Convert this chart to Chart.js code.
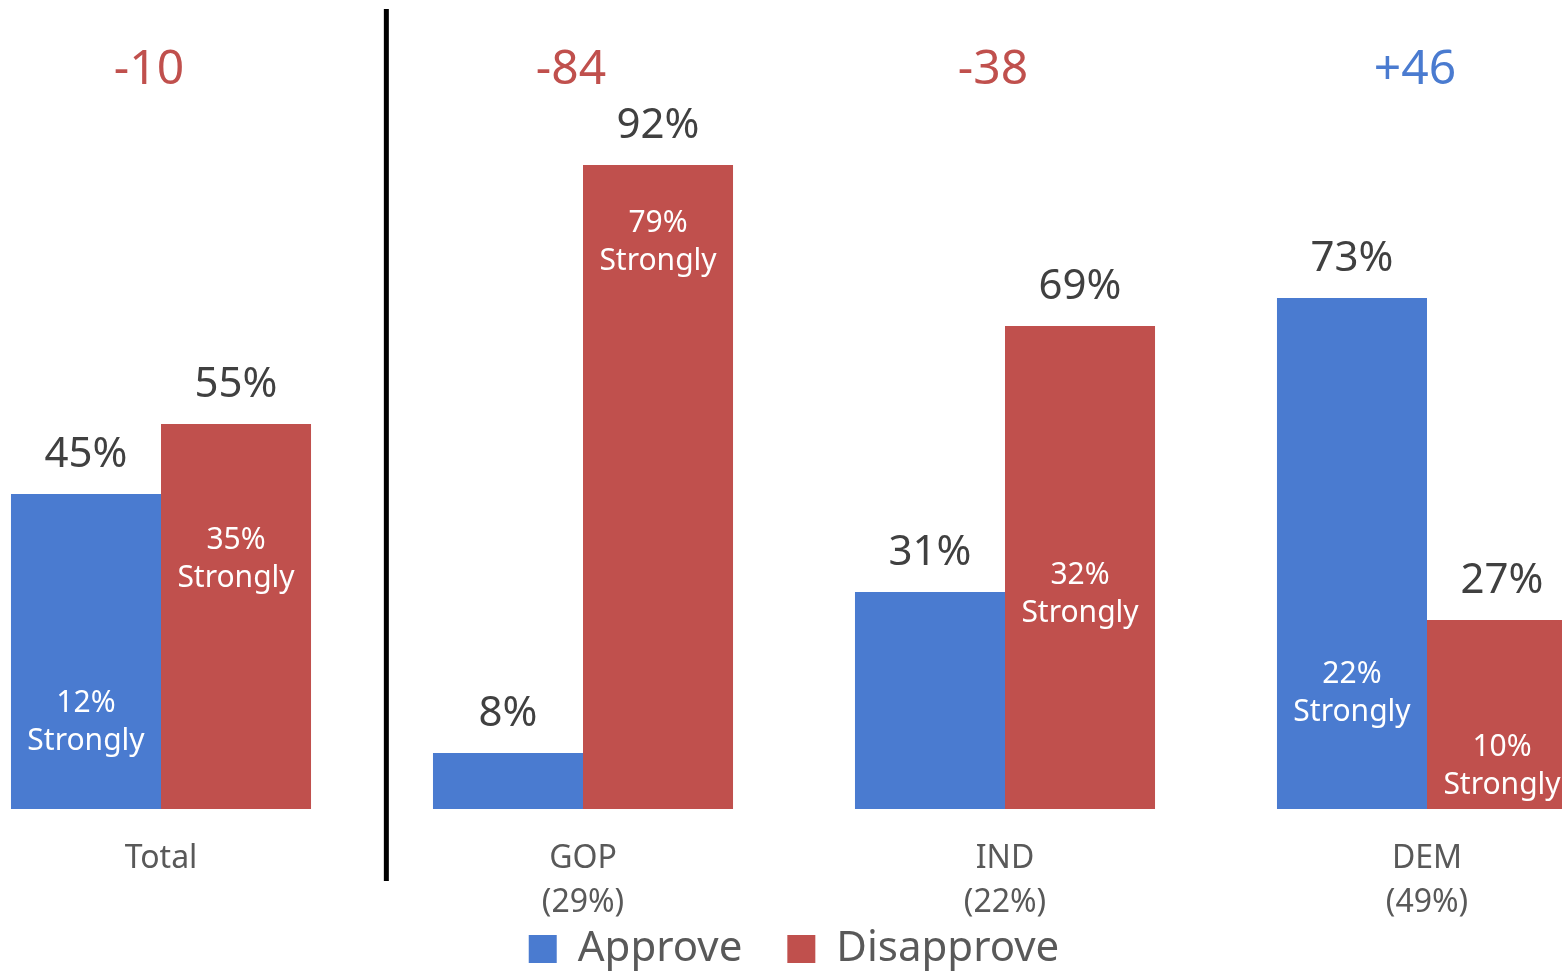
<!DOCTYPE html>
<html>
<head>
<meta charset="utf-8">
<script src="https://cdn.jsdelivr.net/npm/chart.js@4/dist/chart.umd.min.js"></script>
<style>
  html, body { margin: 0; padding: 0; background: #fff; overflow: hidden; }
  #wrap { position: absolute; left: -50px; top: 0; width: 1688px; height: 980px; }
</style>
</head>
<body>
<div id="wrap"><canvas id="approvalChart" width="1688" height="980"></canvas></div>
<script>
// Groups and values
var groups = [['Total'], ['GOP', '(29%)'], ['IND', '(22%)'], ['DEM', '(49%)']];
var approve = [45, 8, 31, 73];
var disapprove = [55, 92, 69, 27];
var approveStrongly = [12, null, null, 22];
var disapproveStrongly = [35, 79, 32, 10];

var BLUE = '#4a7bd0';
var RED = '#c0504d';
var FONT = '"Noto Sans", "Open Sans", sans-serif';

// Vertical nudges for the "Strongly" captions (px)
var strongNudge = [[-3, 0, 0, 38], [-5, -14, 9, 27]];

// Draws value labels, "Strongly" captions, net scores and the divider
var labelPlugin = {
    id: 'barLabels',
    afterDatasetsDraw: function(chart) {
        var ctx = chart.ctx;
        var x = chart.scales.x;
        var y = chart.scales.y;
        var strong = [approveStrongly, disapproveStrongly];

        ctx.save();
        ctx.textAlign = 'center';
        ctx.textBaseline = 'middle';

        chart.data.datasets.forEach(function(ds, d) {
            var meta = chart.getDatasetMeta(d);
            meta.data.forEach(function(bar, i) {
                ctx.fillStyle = '#404040';
                ctx.font = '42px ' + FONT;
                ctx.fillText(ds.data[i] + '%', bar.x, bar.y - 39);

                var s = strong[d][i];
                if (s !== null) {
                    var cy = y.getPixelForValue(s) + strongNudge[d][i];
                    ctx.fillStyle = '#ffffff';
                    ctx.font = '30px ' + FONT;
                    ctx.fillText(s + '%', bar.x, cy - 19);
                    ctx.fillText('Strongly', bar.x, cy + 19);
                }
            });
        });

        // net approval per group
        groups.forEach(function(g, i) {
            var net = approve[i] - disapprove[i];
            ctx.fillStyle = net > 0 ? BLUE : RED;
            ctx.font = '48px ' + FONT;
            ctx.fillText((net > 0 ? '+' : '') + net, x.getPixelForValue(i) - 12, chart.chartArea.top + 66);
        });

        // divider between Total and the party groups
        var x0 = x.getPixelForValue(0);
        var step = x.getPixelForValue(1) - x0;
        var lx = x0 + step * 0.534;
        ctx.strokeStyle = '#000';
        ctx.lineWidth = 5;
        ctx.beginPath();
        ctx.moveTo(lx, y.getPixelForValue(114.3));
        ctx.lineTo(lx, y.getPixelForValue(-10.3));
        ctx.stroke();
        ctx.restore();
    }
};

var ctx = document.getElementById('approvalChart').getContext('2d');
var approvalChart = new Chart(ctx, {
    type: 'bar',
    data: {
        labels: groups,
        datasets: [
            { label: 'Approve', data: approve, backgroundColor: BLUE },
            { label: 'Disapprove', data: disapprove, backgroundColor: RED }
        ]
    },
    options: {
        responsive: false,
        animation: false,
        layout: { padding: { top: 4, left: 0, right: 0, bottom: 0 } },
        datasets: {
            bar: { categoryPercentage: 0.711, barPercentage: 1 }
        },
        scales: {
            x: {
                grid: { display: false, drawTicks: false },
                border: { display: false },
                ticks: {
                    padding: 27,
                    color: '#595959',
                    font: { family: FONT, size: 32, lineHeight: 1.4 }
                },
                afterFit: function(scale) { scale.height = 116; }
            },
            y: { display: false, min: 0, max: 115 }
        },
        plugins: {
            tooltip: { enabled: false },
            legend: {
                position: 'bottom',
                labels: {
                    boxWidth: 28,
                    boxHeight: 28,
                    padding: 3,
                    color: '#595959',
                    font: { family: FONT, size: 42 },
                    generateLabels: function(chart) {
                        var items = Chart.defaults.plugins.legend.labels.generateLabels(chart);
                        // an em space after the first entry widens the gap between items
                        items[0].text += '\u2003';
                        return items;
                    }
                }
            }
        }
    },
    plugins: [labelPlugin]
});
</script>
</body>
</html>
